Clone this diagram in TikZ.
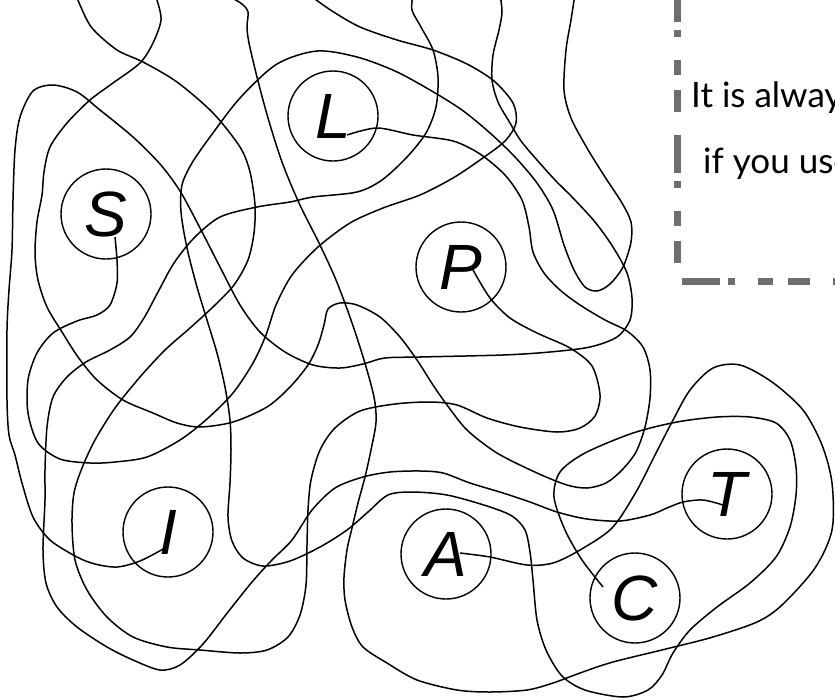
\documentclass[tikz,border=0pt]{standalone}
\usepackage{fontspec}
\newfontfamily\letterfont{Liberation Sans}
\newfontfamily\notefont{Lato}
\definecolor{boxgray}{HTML}{6D6E71}
\tikzset{
  wire/.style={line width=1.5pt, line join=round},
  ring/.style={circle, draw, line width=1.4pt, minimum size=90pt, inner sep=0pt,
    font=\letterfont\itshape\fontsize{64}{64}\selectfont},
  notebox/.style={draw=boxgray, line width=7pt,
    dash pattern=on 38pt off 8pt on 7pt off 23pt on 15pt off 15pt on 22pt off 23pt},
  notetext/.style={inner sep=0pt, anchor=base west, font=\notefont\fontsize{35}{35}\selectfont}
}
\begin{document}
\begin{tikzpicture}[x=1pt,y=-1pt]
\useasboundingbox (0,0) rectangle (835,699);
\clip (0,0) rectangle (835,699);

% circled letters
\node[ring] (S) at (106,214) {S};
\node[ring] (L) at (333,116) {L};
\node[ring] (P) at (461,267) {P};
\node[ring] (I) at (168,532) {I};
\node[ring] (A) at (446,554) {A};
\node[ring] (C) at (635,598) {C};
\node[ring] (T) at (727,494) {T};

% where each line leaves a letter, and where it leaves the page
\coordinate (tailS) at (115,237);
\coordinate (tailL) at (347,135);
\coordinate (tailP) at (473,270);
\coordinate (tailI) at (165,548);
\coordinate (tailA) at (460,553);
\coordinate (tailC) at (603,587);
\coordinate (tailT) at (723,505);
\foreach \n/\x in {P/76, L/154, A/225, S/308, T/413, I/500, C/575}
  \coordinate (exit\n) at (\x,-6);

% P
\draw[wire] plot[smooth] coordinates {(tailP) (490,298) (510,318) (537,333) (570,348)
  (592,366) (600,395) (595,416) (580,428) (557,432) (520,427) (487,418) (457,405)
  (430,402) (395,404) (360,411) (335,428) (320,450) (311,480) (308,510) (307,545)
  (306,585) (300,615) (288,637) (267,650) (240,653) (200,650) (167,647) (133,637)
  (107,617) (87,590) (75,560) (72,523) (74,493) (82,468) (95,440) (115,408) (140,377)
  (165,350) (190,328) (214,306) (234,285) (248,260) (254,233) (255,205) (250,172)
  (240,147) (213,113) (177,82) (143,62) (117,50) (92,28) (80,5) (exitP)};

% L
\draw[wire] plot[smooth] coordinates {(tailL) (377,128) (413,135) (453,141) (480,154)
  (505,175) (522,200) (529,227) (533,252) (544,273) (560,290) (580,305) (605,320)
  (627,331) (643,347) (650,370) (650,398) (645,427) (636,452) (622,470) (606,483)
  (587,488) (567,485) (537,473) (497,453) (467,430) (447,405) (433,385) (417,360)
  (400,337) (380,317) (357,305) (340,303) (328,309) (324,325) (318,345) (308,365)
  (290,387) (267,407) (233,422) (200,427) (177,423) (153,413) (123,400) (97,380)
  (78,357) (62,332) (47,307) (38,280) (35,253) (37,222) (42,195) (44,172) (50,147)
  (67,123) (90,100) (113,83) (140,63) (153,43) (161,20) (157,0) (exitL)};

% S
\draw[wire] plot[smooth] coordinates {(tailS) (117,260) (117,283) (110,305) (97,315)
  (77,321) (53,333) (37,353) (28,380) (28,413) (38,443) (60,459) (90,463) (115,462)
  (147,457) (180,440) (207,419) (233,393) (253,363) (266,335) (276,305) (292,275)
  (318,247) (350,223) (383,208) (420,195) (453,178) (480,160) (505,141) (516,123)
  (513,103) (494,81) (467,64) (433,50) (397,40) (360,27) (332,11) (exitS)};

% I
\draw[wire] plot[smooth] coordinates {(tailI) (140,561) (117,567) (95,564) (77,557)
  (50,540) (33,517) (22,483) (15,455) (9,435) (7,400) (7,330) (9,290) (12,250)
  (13,200) (15,150) (20,117) (33,91) (53,85) (77,92) (100,110) (133,137) (160,164)
  (180,191) (200,228) (220,267) (240,305) (260,332) (285,352) (313,365) (340,368)
  (363,364) (385,358) (420,357) (503,355) (550,352) (590,347) (617,337) (630,320)
  (632,298) (627,273) (613,247) (595,222) (573,198) (555,180) (537,160) (521,141)
  (510,123) (498,102) (492,80) (493,55) (499,30) (502,12) (exitI)};

% T
\draw[wire] plot[smooth] coordinates {(tailT) (703,500) (683,502) (667,508) (650,515)
  (620,521) (587,519) (557,512) (530,502) (503,493) (470,483) (443,473) (420,471)
  (390,472) (363,477) (335,488) (312,510) (292,540) (272,560) (252,582) (228,612)
  (203,644) (180,665) (160,670) (133,660) (107,647) (77,627) (57,607) (46,583)
  (43,550) (45,500) (45,470) (47,427) (53,397) (67,377) (86,362) (110,350) (130,337)
  (144,318) (158,292) (174,263) (194,238) (220,217) (257,207) (290,202) (313,197)
  (357,192) (382,180) (407,157) (426,133) (436,107) (438,77) (433,50) (421,27)
  (412,10) (exitT)};

% A
\draw[wire] plot[smooth] coordinates {(tailA) (490,557) (527,565) (553,563) (580,550)
  (612,528) (636,492) (655,455) (672,422) (690,390) (713,368) (740,365) (772,382)
  (803,410) (822,445) (832,483) (832,530) (815,568) (782,605) (757,622) (713,637)
  (670,648) (613,662) (580,673) (553,683) (527,690) (490,692) (457,690) (417,680)
  (387,663) (363,647) (352,627) (345,600) (344,577) (347,550) (352,528) (358,503)
  (365,477) (371,450) (376,422) (374,397) (364,360) (351,320) (336,280) (320,245)
  (299,203) (282,162) (268,118) (257,77) (249,43) (247,27) (248,12) (242,4) (232,-2)
  (exitA)};

% C
\draw[wire] plot[smooth] coordinates {(tailC) (582,560) (565,530) (554,497) (560,472)
  (585,453) (633,433) (677,422) (717,417) (750,417) (776,423) (790,440) (796,467)
  (796,495) (790,527) (776,557) (750,583) (717,607) (690,630) (673,653) (662,675)
  (648,690) (623,697) (585,690) (562,676) (546,650) (537,620) (533,580) (530,552)
  (525,530) (512,516) (487,506) (447,495) (412,492) (388,495) (368,512) (347,530)
  (320,547) (290,561) (263,566) (243,558) (232,541) (228,517) (230,483) (231,450)
  (230,420) (225,387) (217,353) (207,320) (197,287) (187,248) (181,212) (182,185)
  (192,163) (210,137) (240,98) (277,64) (317,51) (357,57) (395,71) (430,90)
  (462,110) (490,133) (515,157) (537,183) (553,210) (564,245) (574,270) (585,287)
  (597,291) (610,284) (623,267) (631,242) (631,222) (622,203) (605,177) (587,148)
  (571,118) (564,90) (566,50) (571,20) (exitC)};

% note box
\draw[notebox] (677,-16) -- (677,281) -- (850,281);
\node[notetext] (line1) at (691,107) {It is alway};
\node[notetext] (line2) at (703,173) {if you use};
\end{tikzpicture}
\end{document}
